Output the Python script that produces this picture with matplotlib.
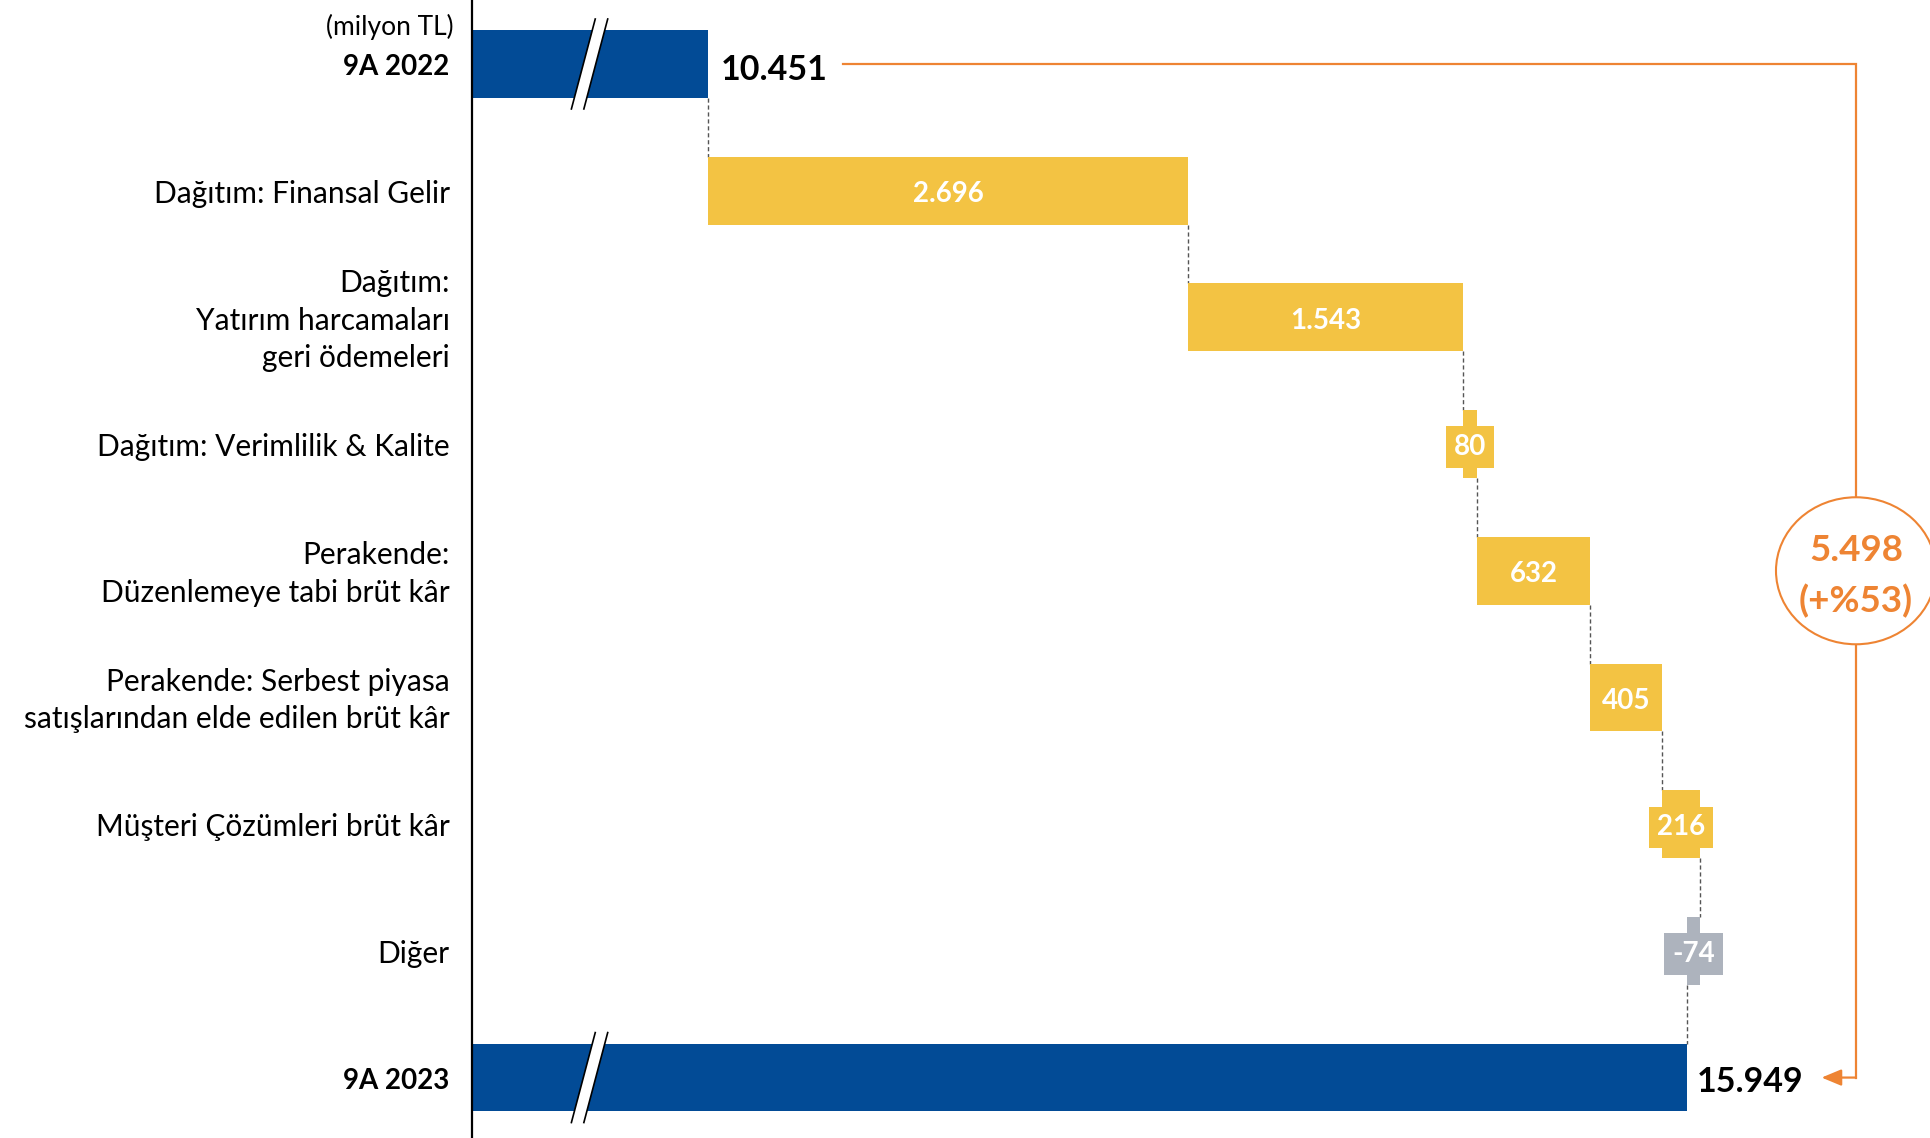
import matplotlib
matplotlib.use('Agg')
import numpy as np
import matplotlib.pyplot as plt
from matplotlib.patches import Ellipse, Polygon
from matplotlib.transforms import blended_transform_factory

# data (milyon TL)
categories = [
    '9A 2022',
    'Dağıtım: Finansal Gelir',
    'Dağıtım:\nYatırım harcamaları\ngeri ödemeleri',
    'Dağıtım: Verimlilik & Kalite',
    'Perakende:\nDüzenlemeye tabi brüt kâr',
    'Perakende: Serbest piyasa\nsatışlarından elde edilen brüt kâr',
    'Müşteri Çözümleri brüt kâr',
    'Diğer',
    '9A 2023',
]
start_value = 10451
end_value = 15949
changes = [2696, 1543, 80, 632, 405, 216, -74]
change_labels = ['2.696', '1.543', '80', '632', '405', '216', '-74']
total_labels = ['10.451', '15.949']
diff_label = '5.498\n(+%53)'
unit_label = '(milyon TL)'

blue = '#024B96'
yellow = '#F3C343'
grey = '#ADB3BD'
orange = '#EE8433'

plt.rcParams['font.family'] = ['Lato', 'DejaVu Sans']

fig = plt.figure(figsize=(19.31, 11.38), dpi=100)
ax = fig.add_axes([0.2442, 0, 0.7558, 1])
ax.set_xlim(9120, 17320)
ax.set_ylim(8.477, -0.505)

rows = np.arange(len(categories))
bar_h = 0.535
text_dy = 0.025  # text sits a little low in the original
lefts = start_value + np.concatenate([[0], np.cumsum(changes)[:-1]])
ends = start_value + np.cumsum(changes)
colors = [yellow if c > 0 else grey for c in changes]

ax.barh([rows[0], rows[-1]], [start_value, end_value], left=0, height=bar_h, color=blue, zorder=2)
ax.barh(rows[1:-1], changes, left=lefts, height=bar_h, color=colors, zorder=2)

# dashed connectors between bars
stops = [start_value] + list(ends)
for i, x in enumerate(stops):
    ax.plot([x, x], [i + bar_h / 2, i + 1 - bar_h / 2], ls=(0, (3, 2)), color='#555555', lw=1, zorder=1)

# labels in bars (small bars get a box around the label)
for i, (c, lab, left) in enumerate(zip(changes, change_labels, lefts)):
    cx = left + c / 2
    box = dict(boxstyle='square,pad=0.28', fc=colors[i], ec='none') if abs(c) < 300 else None
    ax.text(cx, i + 1 + text_dy, lab, ha='center', va='center', color='white', fontsize=20, fontweight='bold',
            zorder=4, bbox=box)

# axis break marks
def break_mark(row, xc=9783, slant=67, gap=35, ext=0.355):
    top, bot = row - ext, row + ext
    poly = Polygon([(xc - gap + slant, top), (xc + gap + slant, top), (xc + gap - slant, bot), (xc - gap - slant, bot)],
                   closed=True, fc='white', ec='none', zorder=3)
    ax.add_patch(poly)
    for off in (-gap, gap):
        ax.plot([xc + off + slant, xc + off - slant], [top, bot], color='black', lw=1.2, zorder=3)

break_mark(rows[0])
break_mark(rows[-1])

for s in ['top', 'right', 'bottom']:
    ax.spines[s].set_visible(False)
ax.spines['left'].set_linewidth(1.6)
ax.set_xticks([])
ax.set_yticks([])

trans = blended_transform_factory(ax.transAxes, ax.transData)
for i, lab in enumerate(categories):
    bold = i in (0, len(categories) - 1)
    ax.text(-0.015, i + text_dy, lab, transform=trans, ha='right', va='center', fontsize=20 if bold else 21.5,
            fontweight='bold' if bold else 'normal', linespacing=1.42)
ax.text(-0.012, -0.29, unit_label, transform=trans, ha='right', va='center', fontsize=19)

t0 = ax.annotate(total_labels[0], (start_value, rows[0]), xytext=(12, -6), textcoords='offset pixels',
                 ha='left', va='center', fontsize=24.5, fontweight='bold')
t1 = ax.annotate(total_labels[1], (end_value, rows[-1]), xytext=(10, -4), textcoords='offset pixels',
                 ha='left', va='center', fontsize=24.5, fontweight='bold')

# orange difference bracket
fig.canvas.draw()
inv = ax.transAxes.inverted()
x_start = inv.transform((t0.get_window_extent().x1 + 16, 0))[0]
x_tip = inv.transform((t1.get_window_extent().x1 + 18, 0))[0]
xv = 0.9486
mid = (rows[0] + rows[-1]) / 2
ax.plot([x_start, xv, xv], [rows[0], rows[0], rows[-1]], color=orange, lw=1.6, transform=trans,
        clip_on=False, solid_joinstyle='miter', zorder=4)
ax.add_patch(Ellipse((xv, mid), width=2 * 80 / 1459.5, height=2 * 73.5 / 126.7, transform=trans,
                     fc='white', ec=orange, lw=1.5, zorder=5, clip_on=False))
ax.text(xv, mid + 0.04, diff_label, transform=trans, ha='center', va='center', fontsize=26.5, fontweight='bold',
        color=orange, linespacing=1.6, zorder=6)
ax.annotate('', xy=(x_tip, rows[-1]), xytext=(xv, rows[-1]), xycoords=trans, textcoords=trans,
            arrowprops=dict(arrowstyle='-|>,head_length=0.6,head_width=0.25', color=orange, lw=1.6,
                            mutation_scale=20, shrinkA=0, shrinkB=0))

fig.savefig('out.png', dpi=100)
